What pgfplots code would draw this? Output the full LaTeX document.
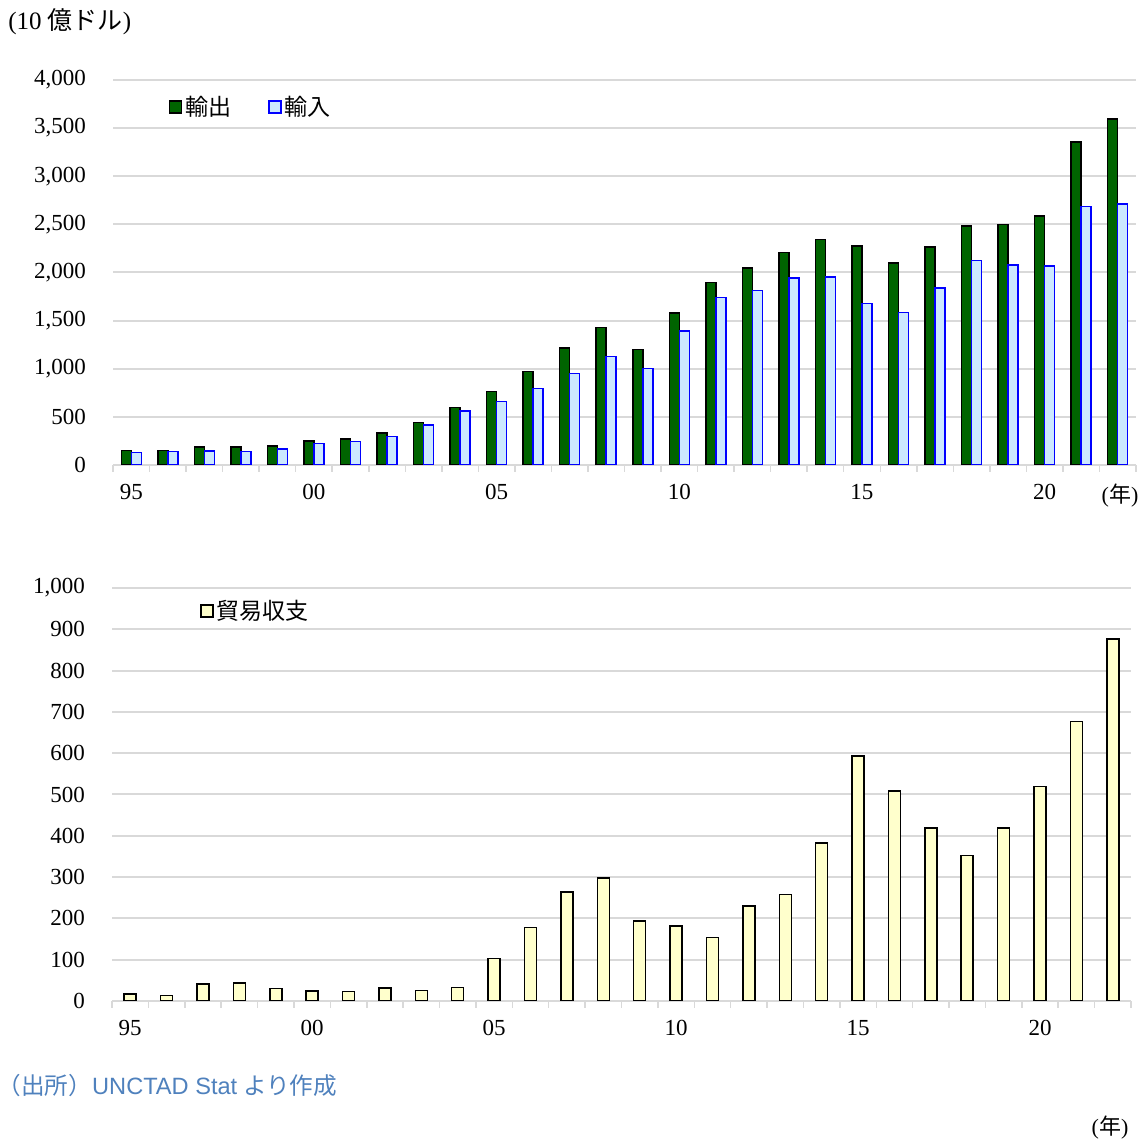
\documentclass[border=0pt]{standalone}
\usepackage{pgfplots}
\pgfplotsset{compat=1.18}
\usepackage{fontspec}
\setmainfont{Liberation Serif}
\newfontfamily\cjk{Noto Sans CJK JP}
\newfontfamily\lsans{Liberation Sans}
\definecolor{expg}{RGB}{0,100,0}
\definecolor{impb}{RGB}{204,232,255}
\definecolor{balY}{RGB}{255,255,204}
\definecolor{gridc}{RGB}{217,217,217}
\definecolor{srcblue}{RGB}{79,129,189}
\pgfplotsset{
  common/.style={
    scale only axis,
    xmin=-0.5, xmax=27.5,
    ymin=0,
    axis x line*=bottom, axis y line*=left,
    y axis line style={draw=none},
    x axis line style={draw=gridc, line width=1pt, -},
    xtick={0,5,10,15,20,25},
    xticklabels={95,00,05,10,15,20},
    minor xtick={-0.5,0.5,...,27.5},
    major tick length=0pt,
    minor tick length=3.5pt,
    xtick align=outside,
    minor x tick style={draw=gridc, line width=0.75pt},
    ymajorgrids,
    major grid style={draw=gridc, line width=1pt},
    tick label style={font=\fontsize{11.5pt}{13pt}\selectfont},
    yticklabel style={xshift=-10pt},
    xticklabel style={yshift=-6pt},
    /pgf/number format/assume math mode=true,
    /pgf/number format/1000 sep={,},
    legend style={draw=none, fill=none, inner sep=0pt, font=\cjk\fontsize{11.5pt}{13pt}\selectfont, legend columns=-1,
      nodes={inner sep=1.5pt},
      /tikz/every even column/.append style={column sep=17pt}},
  },
  sqlegend/.style={
    legend image code/.code={\draw[##1, line width=0.75pt] (0pt,-3pt) rectangle (6pt,3pt);},
  },
}
\begin{document}
\begin{tikzpicture}
\path[use as bounding box] (0,0) rectangle (573pt,569.5pt);
\node[anchor=west, inner sep=0pt, font=\fontsize{12.5pt}{14pt}\selectfont] at (4pt,558.5pt) {(10 {\cjk 億ドル})};
\begin{axis}[common,
  at={(56.5pt,337pt)}, anchor=south west,
  width=511.5pt, height=192.5pt,
  ymax=4000, ytick={0,500,...,4000},
  ybar=0pt, bar width=5pt, sqlegend,
  legend style={at={(0.054,0.93)}, anchor=west},
]
\addplot[fill=expg, draw=black, line width=0.75pt] coordinates {
(0,150) (1,150) (2,185) (3,185) (4,195) (5,250) (6,268) (7,330) (8,441) (9,595)
(10,765) (11,972) (12,1215) (13,1428) (14,1200) (15,1577) (16,1897) (17,2047) (18,2209) (19,2342)
(20,2273) (21,2097) (22,2263) (23,2485) (24,2497) (25,2589) (26,3358) (27,3594)};
\addplot[fill=impb, draw=blue, line width=0.75pt] coordinates {
(0,130) (1,140) (2,143) (3,140) (4,165) (5,225) (6,242) (7,295) (8,413) (9,563)
(10,661) (11,795) (12,952) (13,1128) (14,1004) (15,1390) (16,1738) (17,1813) (18,1945) (19,1955)
(20,1677) (21,1585) (22,1841) (23,2126) (24,2077) (25,2069) (26,2683) (27,2713)};
\legend{輸出,輸入}
\end{axis}
\node[inner sep=0pt, font=\fontsize{11pt}{13pt}\selectfont] at (560pt,321.5pt) {({\cjk 年})};
\begin{axis}[common,
  at={(56pt,69pt)}, anchor=south west,
  width=509.5pt, height=206.5pt,
  ymax=1000, ytick={0,100,...,1000},
  ybar=0pt, bar width=6pt, sqlegend,
  legend style={at={(0.0864,0.944)}, anchor=west},
]
\addplot[fill=balY, draw=black, line width=0.75pt] coordinates {
(0,17) (1,13) (2,41) (3,44) (4,30) (5,24) (6,23) (7,31) (8,26) (9,33)
(10,103) (11,178) (12,264) (13,298) (14,194) (15,181) (16,154) (17,230) (18,258) (19,382)
(20,593) (21,508) (22,419) (23,352) (24,419) (25,519) (26,677) (27,877)};
\legend{貿易収支}
\end{axis}
\node[anchor=west, inner sep=0pt, text=srcblue, font=\fontsize{11.8pt}{13pt}\selectfont] at (4pt,26.5pt) {{\cjk\kern-0.45em （出所）}{\lsans UNCTAD Stat} {\cjk より作成}};
\node[inner sep=0pt, font=\fontsize{11pt}{13pt}\selectfont] at (555pt,5.5pt) {({\cjk 年})};
\end{tikzpicture}
\end{document}
